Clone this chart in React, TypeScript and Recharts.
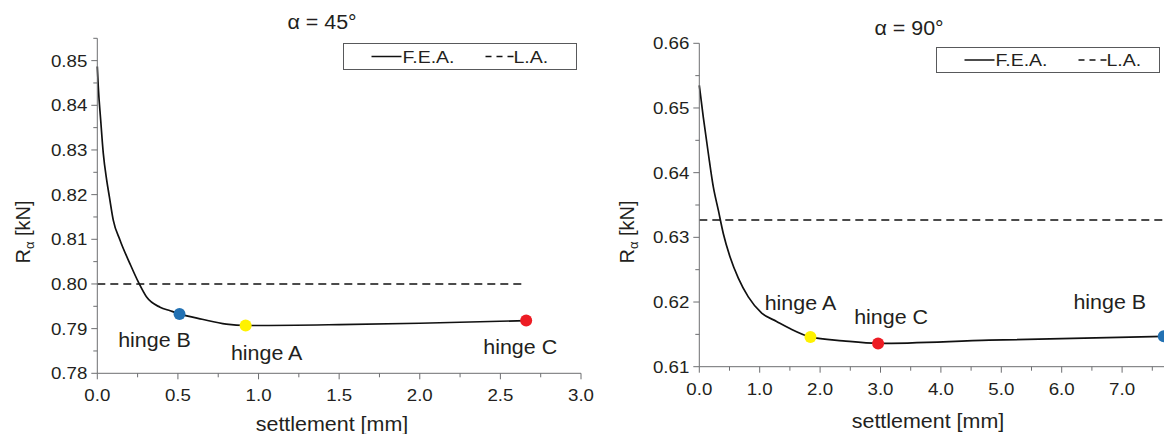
import React from 'react';
import { ComposedChart, Line, Scatter, XAxis, YAxis } from 'recharts';

const FONT = '"Liberation Sans", Arial, Helvetica, sans-serif';
const INK = '#231f20';
const AXIS = '#6d6e71';
const SX = 1.1; // the source figure is slightly stretched horizontally

// alpha = 45°
const fea45X = [0, 0.006, 0.021, 0.037, 0.058, 0.075, 0.099, 0.141, 0.203, 0.255, 0.307, 0.389, 0.452, 0.51, 0.65, 0.8, 0.92, 1.5, 2.0, 2.66];
const fea45Y = [0.8487, 0.8442, 0.8367, 0.8293, 0.8233, 0.8195, 0.8143, 0.8098, 0.8045, 0.8004, 0.797, 0.7948, 0.794, 0.7933, 0.7921, 0.791, 0.7907, 0.7909, 0.7912, 0.7918];
const la45X = [0, 2.635];
const la45Y = [0.8, 0.8];
const hinge45Names = ['B', 'A', 'C'];
const hinge45X = [0.51, 0.92, 2.66];
const hinge45Y = [0.7933, 0.7907, 0.7918];
const ticks45X = [0, 0.25, 0.5, 0.75, 1, 1.25, 1.5, 1.75, 2, 2.25, 2.5, 2.75, 3];
const ticks45Y = [0.78, 0.785, 0.79, 0.795, 0.8, 0.805, 0.81, 0.815, 0.82, 0.825, 0.83, 0.835, 0.84, 0.845, 0.85, 0.855];

// alpha = 90°
const fea90X = [0, 0.066, 0.149, 0.232, 0.315, 0.397, 0.508, 0.646, 0.811, 1.033, 1.28, 1.5, 1.84, 2.38, 2.96, 4.8, 7.69];
const fea90Y = [0.6535, 0.6486, 0.643, 0.6378, 0.6342, 0.6306, 0.627, 0.6237, 0.6208, 0.6183, 0.617, 0.6159, 0.6146, 0.614, 0.6136, 0.6141, 0.6147];
const la90X = [0, 8];
const la90Y = [0.6327, 0.6327];
const hinge90Names = ['A', 'C', 'B'];
const hinge90X = [1.84, 2.96, 7.69];
const hinge90Y = [0.6146, 0.6136, 0.6147];
const ticks90X = [0, 0.5, 1, 1.5, 2, 2.5, 3, 3.5, 4, 4.5, 5, 5.5, 6, 6.5, 7, 7.5];
const ticks90Y = [0.61, 0.615, 0.62, 0.625, 0.63, 0.635, 0.64, 0.645, 0.65, 0.655, 0.66];

const HINGE_COLORS: Record<string, string> = { A: '#fff200', B: '#2271b3', C: '#ed1c24' };

// label offsets (px) relative to each hinge dot
const LABEL_OFFSETS: Record<string, [number, number]> = {
  '45-B': [-25, 33],
  '45-A': [21, 34],
  '45-C': [-6, 33],
  '90-A': [-10, -27],
  '90-C': [13, -19],
  '90-B': [-54, -27],
};

const zip = (xs: number[], ys: number[]) => xs.map((x, i) => ({ x, y: ys[i] }));

const isMajor = (v: number, step: number) => Math.abs(v / step - Math.round(v / step)) < 1e-6;

const xTick = (step: number) => (props: any) => {
  const { x, y, payload } = props;
  const major = isMajor(payload.value, step);
  return (
    <g>
      <line x1={x} y1={y} x2={x} y2={y + (major ? 6 : 4)} stroke={AXIS} strokeWidth={1} />
      {major && (
        <text
          transform={`translate(${x},${y + 28}) scale(${SX},1)`}
          textAnchor="middle"
          fontFamily={FONT}
          fontSize={17}
          fill={INK}
        >
          {payload.value.toFixed(1)}
        </text>
      )}
    </g>
  );
};

const yTick = (step: number) => (props: any) => {
  const { x, y, payload } = props;
  const major = isMajor(payload.value, step);
  return (
    <g>
      <line x1={x} y1={y} x2={x - (major ? 6 : 4)} y2={y} stroke={AXIS} strokeWidth={1} />
      {major && (
        <text
          transform={`translate(${x - 10},${y + 6}) scale(${SX},1)`}
          textAnchor="end"
          fontFamily={FONT}
          fontSize={17}
          fill={INK}
        >
          {payload.value.toFixed(2)}
        </text>
      )}
    </g>
  );
};

const hingeShape = (id: string) => (props: any) => {
  const { cx, cy, payload } = props;
  const [dx, dy] = LABEL_OFFSETS[`${id}-${payload.name}`];
  return (
    <g>
      <circle cx={cx} cy={cy} r={6} fill={HINGE_COLORS[payload.name]} />
      <text
        transform={`translate(${cx + dx},${cy + dy}) scale(${SX},1)`}
        textAnchor="middle"
        fontFamily={FONT}
        fontSize={19.5}
        fill={INK}
      >
        hinge {payload.name}
      </text>
    </g>
  );
};

interface PanelProps {
  id: string;
  left: number;
  width: number;
  top: number;
  right: number;
  yAxisWidth: number;
  xAxisHeight: number;
  fea: { x: number; y: number }[];
  la: { x: number; y: number }[];
  hinges: { name: string; x: number; y: number }[];
  xDomain: [number, number];
  yDomain: [number, number];
  xTicks: number[];
  yTicks: number[];
  xStep: number;
}

function Panel(p: PanelProps) {
  return (
    <div style={{ position: 'absolute', left: p.left, top: 0 }}>
      <ComposedChart
        width={p.width}
        height={434}
        margin={{ top: p.top, right: p.right, bottom: 0, left: 0 }}
      >
        <XAxis
          type="number"
          dataKey="x"
          domain={p.xDomain}
          ticks={p.xTicks}
          interval={0}
          height={p.xAxisHeight}
          tickSize={0}
          tickMargin={0}
          tickLine={false}
          axisLine={{ stroke: AXIS, strokeWidth: 1 }}
          tick={xTick(p.xStep)}
        />
        <YAxis
          type="number"
          dataKey="y"
          domain={p.yDomain}
          ticks={p.yTicks}
          interval={0}
          width={p.yAxisWidth}
          tickSize={0}
          tickMargin={0}
          tickLine={false}
          axisLine={{ stroke: AXIS, strokeWidth: 1 }}
          tick={yTick(0.01)}
          allowDataOverflow
        />
        <Line
          data={p.la}
          dataKey="y"
          type="linear"
          stroke="#111"
          strokeWidth={1.5}
          strokeDasharray="8 5"
          dot={false}
          isAnimationActive={false}
        />
        <Line
          data={p.fea}
          dataKey="y"
          type="monotone"
          stroke="#111"
          strokeWidth={1.7}
          dot={false}
          isAnimationActive={false}
        />
        <Scatter data={p.hinges} dataKey="y" shape={hingeShape(p.id)} isAnimationActive={false} />
      </ComposedChart>
    </div>
  );
}

function LegendBox({ x, y, w, h }: { x: number; y: number; w: number; h: number }) {
  const cy = y + h / 2;
  return (
    <g>
      <rect x={x} y={y} width={w} height={h} fill="#fff" stroke="#58595b" strokeWidth={1} />
      <line x1={x + 28} y1={cy} x2={x + 58} y2={cy} stroke="#111" strokeWidth={1.5} />
      <text
        transform={`translate(${x + 59},${cy + 6}) scale(1.22,1)`}
        fontFamily={FONT}
        fontSize={16}
        fill={INK}
      >
        F.E.A.
      </text>
      <line x1={x + 142} y1={cy} x2={x + 170} y2={cy} stroke="#111" strokeWidth={1.5} strokeDasharray="6 5" />
      <text
        transform={`translate(${x + 170},${cy + 6}) scale(1.22,1)`}
        fontFamily={FONT}
        fontSize={16}
        fill={INK}
      >
        L.A.
      </text>
    </g>
  );
}

function Overlay() {
  const t = (x: number, y: number, s: string, size = 19.5) => (
    <text
      transform={`translate(${x},${y}) scale(${SX},1)`}
      textAnchor="middle"
      fontFamily={FONT}
      fontSize={size}
      fill={INK}
    >
      {s}
    </text>
  );
  const yTitle = (x: number, y: number) => (
    <text
      transform={`translate(${x},${y}) rotate(-90)`}
      textAnchor="middle"
      fontFamily={FONT}
      fontSize={20}
      fill={INK}
    >
      R
      <tspan fontSize={13} dy={4}>α</tspan>
      <tspan dy={-4}> [kN]</tspan>
    </text>
  );
  return (
    <svg
      width={1164}
      height={434}
      style={{ position: 'absolute', left: 0, top: 0, pointerEvents: 'none' }}
    >
      {t(322, 29, 'α = 45°')}
      {t(909, 35, 'α = 90°')}
      <LegendBox x={343.5} y={43.5} w={233} h={26} />
      <LegendBox x={936.5} y={47.5} w={223} h={25} />
      {t(332, 431, 'settlement [mm]')}
      {t(928, 428, 'settlement [mm]')}
      {yTitle(30, 232)}
      {yTitle(634, 232)}
    </svg>
  );
}

export default function App() {
  const hinges45 = hinge45Names.map((name, i) => ({ name, x: hinge45X[i], y: hinge45Y[i] }));
  const hinges90 = hinge90Names.map((name, i) => ({ name, x: hinge90X[i], y: hinge90Y[i] }));
  return (
    <div
      style={{
        position: 'absolute',
        left: 0,
        top: 0,
        width: 1164,
        height: 434,
        overflow: 'hidden',
        background: '#fff',
      }}
    >
      <Panel
        id="45"
        left={0}
        width={600}
        top={38.3}
        right={19}
        yAxisWidth={97.3}
        xAxisHeight={60.7}
        fea={zip(fea45X, fea45Y)}
        la={zip(la45X, la45Y)}
        hinges={hinges45}
        xDomain={[0, 3]}
        yDomain={[0.78, 0.855]}
        xTicks={ticks45X}
        yTicks={ticks45Y}
        xStep={0.5}
      />
      <Panel
        id="90"
        left={600}
        width={620}
        top={43.3}
        right={37.5}
        yAxisWidth={99.3}
        xAxisHeight={67.3}
        fea={zip(fea90X, fea90Y)}
        la={zip(la90X, la90Y)}
        hinges={hinges90}
        xDomain={[0, 8]}
        yDomain={[0.61, 0.66]}
        xTicks={ticks90X}
        yTicks={ticks90Y}
        xStep={1}
      />
      <Overlay />
    </div>
  );
}
